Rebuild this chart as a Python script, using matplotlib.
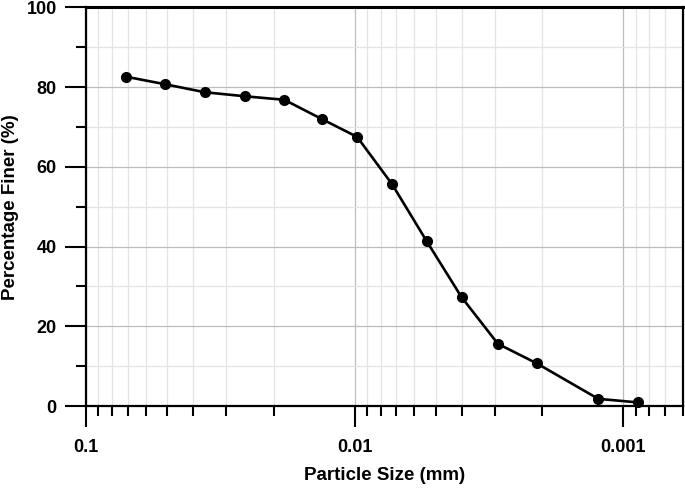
import matplotlib.pyplot as plt
import numpy as np
from matplotlib.ticker import FixedLocator, FixedFormatter, MultipleLocator

# grain-size distribution
particle_size = [0.0710, 0.0507, 0.0361, 0.0257, 0.01826, 0.01318, 0.00979,
                 0.00725, 0.00539, 0.00400, 0.00293, 0.00210, 0.00124, 0.000882]
percent_finer = [82.6, 80.7, 78.7, 77.7, 76.8, 71.9, 67.5,
                 55.6, 41.3, 27.3, 15.6, 10.7, 1.8, 0.9]

x_major = [0.1, 0.01, 0.001]
x_major_labels = ['0.1', '0.01', '0.001']

plt.rcParams['font.family'] = ['Liberation Sans', 'DejaVu Sans']
plt.rcParams['font.weight'] = 'bold'

fig = plt.figure(figsize=(6.85, 4.88), dpi=100)
ax = fig.add_axes([0.1255, 0.168, 0.8715, 0.817])

ax.plot(particle_size, percent_finer, color='black', linewidth=1.9,
        marker='o', markersize=7, zorder=3, clip_on=False)

ax.set_xscale('log')
ax.set_xlim(0.1, 0.0006)
ax.set_ylim(0, 100)

# ticks
minor_x = [m * d for d in (0.01, 0.001, 0.0001) for m in range(2, 10)]
minor_x = [v for v in minor_x if 0.0006 <= v <= 0.1]
ax.xaxis.set_major_locator(FixedLocator(x_major))
ax.xaxis.set_major_formatter(FixedFormatter(x_major_labels))
ax.xaxis.set_minor_locator(FixedLocator(minor_x))
ax.xaxis.set_minor_formatter(FixedFormatter([]))
ax.yaxis.set_major_locator(MultipleLocator(20))
ax.yaxis.set_minor_locator(MultipleLocator(10))

ax.tick_params(axis='both', which='major', direction='out', length=15, width=1.5,
               labelsize=13, color='black')
ax.tick_params(axis='both', which='minor', direction='out', length=7.5, width=1.5,
               color='black')
ax.tick_params(axis='x', which='major', pad=9)
ax.tick_params(axis='y', which='major', pad=6)

# grid
ax.grid(True, which='major', color='#bdbdbd', linewidth=0.9)
ax.grid(True, which='minor', color='#e4e4e4', linewidth=0.9)
ax.set_axisbelow(True)

for side in ['left', 'bottom', 'right', 'top']:
    ax.spines[side].set_linewidth(1.6)
    ax.spines[side].set_color('black')
ax.spines['top'].set_linewidth(2.2)

ax.set_xlabel('Particle Size (mm)', fontsize=13.5, fontweight='bold')
ax.set_ylabel('Percentage Finer (%)', fontsize=13.5, fontweight='bold')
ax.xaxis.set_label_coords(0.5, -0.152)
ax.yaxis.set_label_coords(-0.113, 0.5)

plt.savefig('out.png', dpi=100)
